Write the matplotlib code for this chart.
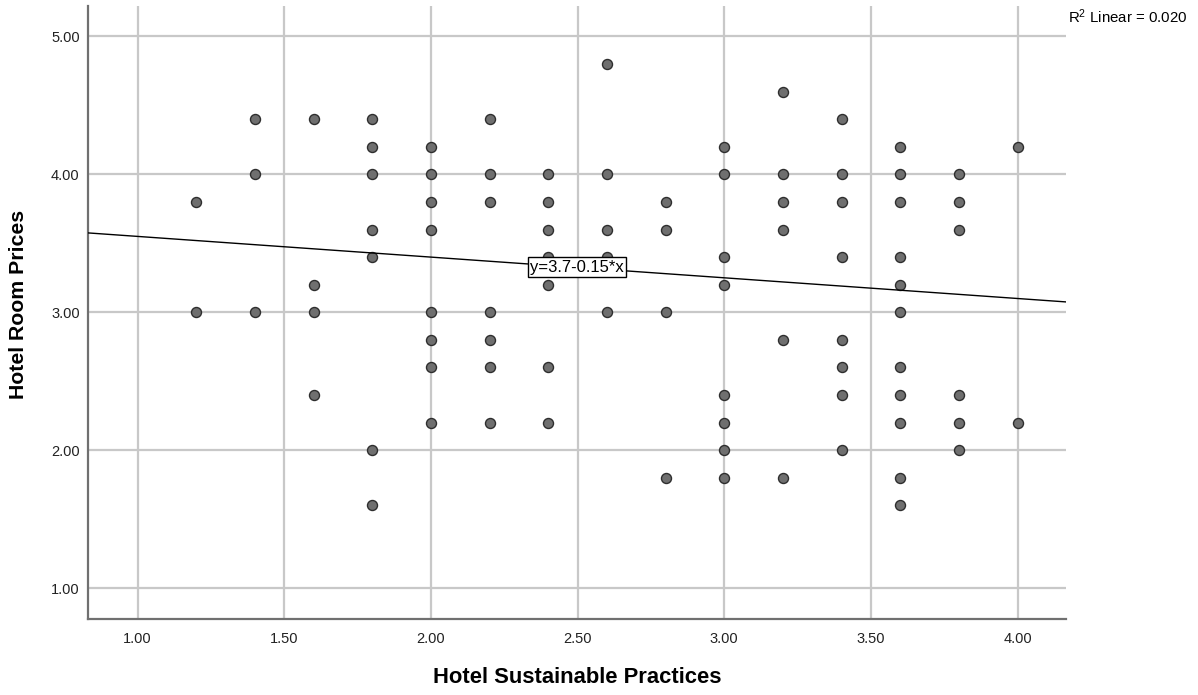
import matplotlib
matplotlib.use("Agg")
import matplotlib.pyplot as plt
import numpy as np

plt.rcParams['font.family'] = ['Liberation Sans', 'DejaVu Sans']
plt.rcParams['mathtext.fontset'] = 'custom'
plt.rcParams['mathtext.rm'] = 'Liberation Sans'
plt.rcParams['mathtext.it'] = 'Liberation Sans'

# ---- data ----
sustainable = [
    1.2, 1.2,
    1.4, 1.4, 1.4,
    1.6, 1.6, 1.6, 1.6,
    1.8, 1.8, 1.8, 1.8, 1.8, 1.8, 1.8,
    2.0, 2.0, 2.0, 2.0, 2.0, 2.0, 2.0, 2.0,
    2.2, 2.2, 2.2, 2.2, 2.2, 2.2, 2.2,
    2.4, 2.4, 2.4, 2.4, 2.4, 2.4, 2.4,
    2.6, 2.6, 2.6, 2.6, 2.6,
    2.8, 2.8, 2.8, 2.8,
    3.0, 3.0, 3.0, 3.0, 3.0, 3.0, 3.0, 3.0,
    3.2, 3.2, 3.2, 3.2, 3.2, 3.2,
    3.4, 3.4, 3.4, 3.4, 3.4, 3.4, 3.4, 3.4,
    3.6, 3.6, 3.6, 3.6, 3.6, 3.6, 3.6, 3.6, 3.6, 3.6, 3.6,
    3.8, 3.8, 3.8, 3.8, 3.8, 3.8,
    4.0, 4.0,
]
room_prices = [
    3.8, 3.0,
    4.4, 4.0, 3.0,
    4.4, 3.2, 3.0, 2.4,
    4.4, 4.2, 4.0, 3.6, 3.4, 2.0, 1.6,
    4.2, 4.0, 3.8, 3.6, 3.0, 2.8, 2.6, 2.2,
    4.4, 4.0, 3.8, 3.0, 2.8, 2.6, 2.2,
    4.0, 3.8, 3.6, 3.4, 3.2, 2.6, 2.2,
    4.8, 4.0, 3.6, 3.4, 3.0,
    3.8, 3.6, 3.0, 1.8,
    4.2, 4.0, 3.4, 3.2, 2.4, 2.2, 2.0, 1.8,
    4.6, 4.0, 3.8, 3.6, 2.8, 1.8,
    4.4, 4.0, 3.8, 3.4, 2.8, 2.6, 2.4, 2.0,
    4.2, 4.0, 3.8, 3.4, 3.2, 3.0, 2.6, 2.4, 2.2, 1.8, 1.6,
    4.0, 3.8, 3.6, 2.4, 2.2, 2.0,
    4.2, 2.2,
]
fit_intercept = 3.70
fit_slope = -0.15
r2_linear = 0.020

x_ticks = [1.0, 1.5, 2.0, 2.5, 3.0, 3.5, 4.0]
y_ticks = [1.0, 2.0, 3.0, 4.0, 5.0]
x_limits = (0.831, 4.165)
y_limits = (0.775, 5.22)

# ---- figure ----
fig = plt.figure(figsize=(11.98, 6.95), dpi=100)
ax = fig.add_axes([0.0735, 0.1089, 0.8163, 0.8825])

ax.set_xlim(*x_limits)
ax.set_ylim(*y_limits)
ax.set_xticks(x_ticks)
ax.set_yticks(y_ticks)
ax.set_xticklabels([f"{v:.2f}" for v in x_ticks])
ax.set_yticklabels([f"{v:.2f}" for v in y_ticks])

ax.grid(True, color='#c8c8c8', linewidth=1.6, zorder=0)
ax.set_axisbelow(True)
for s in ['top', 'right']:
    ax.spines[s].set_visible(False)
for s in ['left', 'bottom']:
    ax.spines[s].set_color('#707070')
    ax.spines[s].set_linewidth(1.6)
ax.tick_params(axis='x', length=0, pad=9, labelsize=10.5, colors='#222222')
ax.tick_params(axis='y', length=0, pad=6, labelsize=10.5, colors='#222222')

ax.scatter(sustainable, room_prices, s=52, c='#6f6f6f', edgecolors='#2e2e2e',
           linewidths=1.0, zorder=3)

xs = np.array(x_limits)
ax.plot(xs, fit_intercept + fit_slope * xs, color='black', linewidth=1.0, zorder=4)

xm = (x_limits[0] + x_limits[1]) / 2
ax.text(xm, fit_intercept + fit_slope * xm, "y=3.7-0.15*x", ha='center', va='center',
        fontsize=12, zorder=5,
        bbox=dict(boxstyle='square,pad=0.15', fc='white', ec='black', lw=1.0))

ax.set_xlabel("Hotel Sustainable Practices", fontsize=15.8, fontweight='bold')
ax.set_ylabel("Hotel Room Prices", fontsize=15.3, fontweight='bold')
ax.xaxis.set_label_coords(0.5, -0.077)
ax.yaxis.set_label_coords(-0.0613, 0.514)

fig.text(1068 / 1198, 1 - 17 / 695, r"R$^2$ Linear = " + f"{r2_linear:.3f}",
         ha='left', va='center', fontsize=10.8)

fig.savefig("out.png", dpi=100)
